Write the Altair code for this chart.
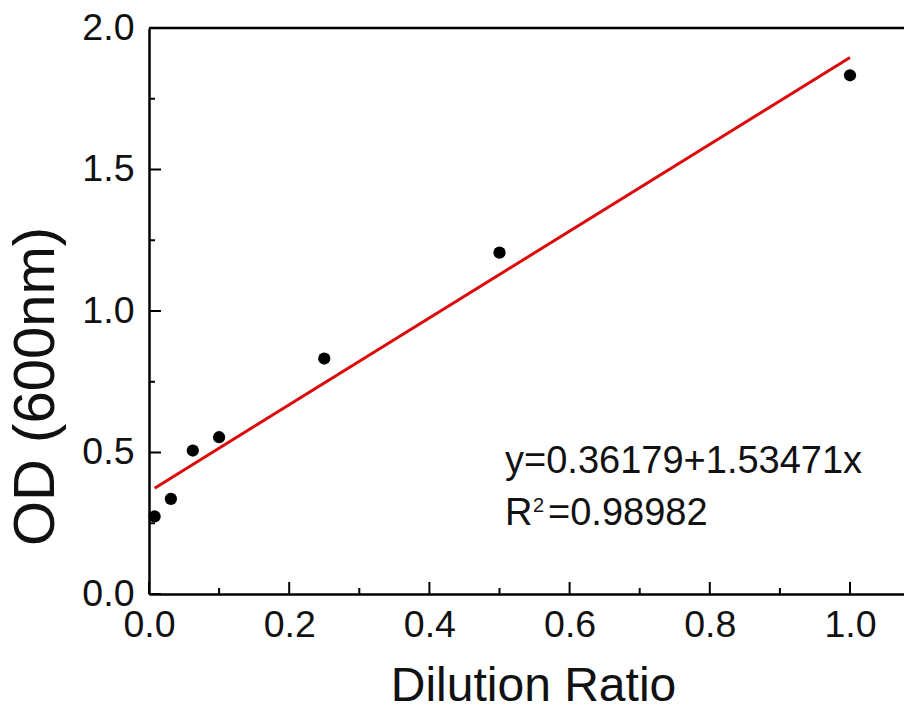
import altair as alt
import pandas as pd

# data
dilution = [0.008, 0.03125, 0.0625, 0.1, 0.25, 0.5, 1.0]
od600 = [0.274, 0.336, 0.507, 0.554, 0.832, 1.206, 1.833]
fit_x = [0.008, 1.0]
fit_y = [0.374, 1.896]
x_major = [0.0, 0.2, 0.4, 0.6, 0.8, 1.0]
x_minor = [0.1, 0.3, 0.5, 0.7, 0.9]
y_major = [0.0, 0.5, 1.0, 1.5, 2.0]
y_minor = [0.25, 0.75, 1.25, 1.75]
eq_text = "y=0.36179+1.53471x"
r2_parts = ["R", "=0.98982"]
r2_sup = "2"

W, H = 755, 566
XMAX = W / 701
FONT = "Liberation Sans"

pts = pd.DataFrame({"x": dilution, "y": od600})
fit = pd.DataFrame({"x": fit_x, "y": fit_y})

xs = alt.Scale(domain=[0, XMAX], nice=False, zero=False)
ys = alt.Scale(domain=[0, 2.0], nice=False, zero=False)

base_x = alt.X("x:Q", scale=xs, axis=alt.Axis(
    values=x_major, format=".1f", ticks=False, grid=False,
    domainColor="black", domainWidth=2.5, labelFontSize=37.5, labelFont=FONT,
    labelColor="#111", labelPadding=12, labelFlush=False,
    title="Dilution Ratio", titleFont=FONT, titleFontSize=48, titleFontWeight="normal",
    titleColor="#111", titleX=384, titleY=106, titleBaseline="alphabetic", titleAlign="center"))
base_y = alt.Y("y:Q", scale=ys, axis=alt.Axis(
    values=y_major, format=".1f", ticks=False, grid=False,
    domainColor="black", domainWidth=2.5, labelFontSize=37.5, labelFont=FONT,
    labelColor="#111", labelPadding=15, labelFlush=False,
    title="OD (600nm)", titleFont=FONT, titleFontSize=58, titleFontWeight="normal",
    titleColor="#111", titleX=-96, titleY=358, titleAngle=270,
    titleBaseline="alphabetic", titleAlign="center"))

points = alt.Chart(pts).mark_circle(size=150, color="black", opacity=1).encode(x=base_x, y=base_y)
line = alt.Chart(fit).mark_line(color="#dc0a0a", strokeWidth=3).encode(
    x=alt.X("x:Q", scale=xs), y=alt.Y("y:Q", scale=ys))

xmaj = alt.Chart(pd.DataFrame({"x": x_major})).mark_rule(color="black", strokeWidth=2).encode(
    x=alt.X("x:Q", scale=xs), y=alt.value(H), y2=alt.value(H - 12))
xmin = alt.Chart(pd.DataFrame({"x": x_minor})).mark_rule(color="black", strokeWidth=2).encode(
    x=alt.X("x:Q", scale=xs), y=alt.value(H), y2=alt.value(H - 6))
ymaj = alt.Chart(pd.DataFrame({"y": y_major})).mark_rule(color="black", strokeWidth=2).encode(
    y=alt.Y("y:Q", scale=ys), x=alt.value(0), x2=alt.value(12))
ymin = alt.Chart(pd.DataFrame({"y": y_minor})).mark_rule(color="black", strokeWidth=2).encode(
    y=alt.Y("y:Q", scale=ys), x=alt.value(0), x2=alt.value(6))
top = alt.Chart(pd.DataFrame({"y": [2.0]})).mark_rule(color="black", strokeWidth=2.5).encode(
    y=alt.Y("y:Q", scale=ys), x=alt.value(0), x2=alt.value(W))

txt = alt.Chart(pd.DataFrame({"t": [eq_text] + r2_parts,
                              "xx": [356, 356, 399], "yy": [445, 497, 497]})).mark_text(
    align="left", baseline="alphabetic", font=FONT, fontSize=38, color="#111").encode(
    text="t:N", x=alt.X("xx:Q", scale=None), y=alt.Y("yy:Q", scale=None))
sup = alt.Chart(pd.DataFrame({"t": [r2_sup], "xx": [384], "yy": [484]})).mark_text(
    align="left", baseline="alphabetic", font=FONT, fontSize=20, color="#111").encode(
    text="t:N", x=alt.X("xx:Q", scale=None), y=alt.Y("yy:Q", scale=None))

chart = alt.layer(line, points, xmaj, xmin, ymaj, ymin, top, txt, sup).properties(
    width=W, height=H,
    autosize=alt.AutoSizeParams(type="none"),
    padding={"left": 141, "top": 20, "right": 0, "bottom": 108},
).configure_view(stroke=None).configure(background="white")

chart.save("out.html", embed_options={"renderer": "svg", "actions": False})
